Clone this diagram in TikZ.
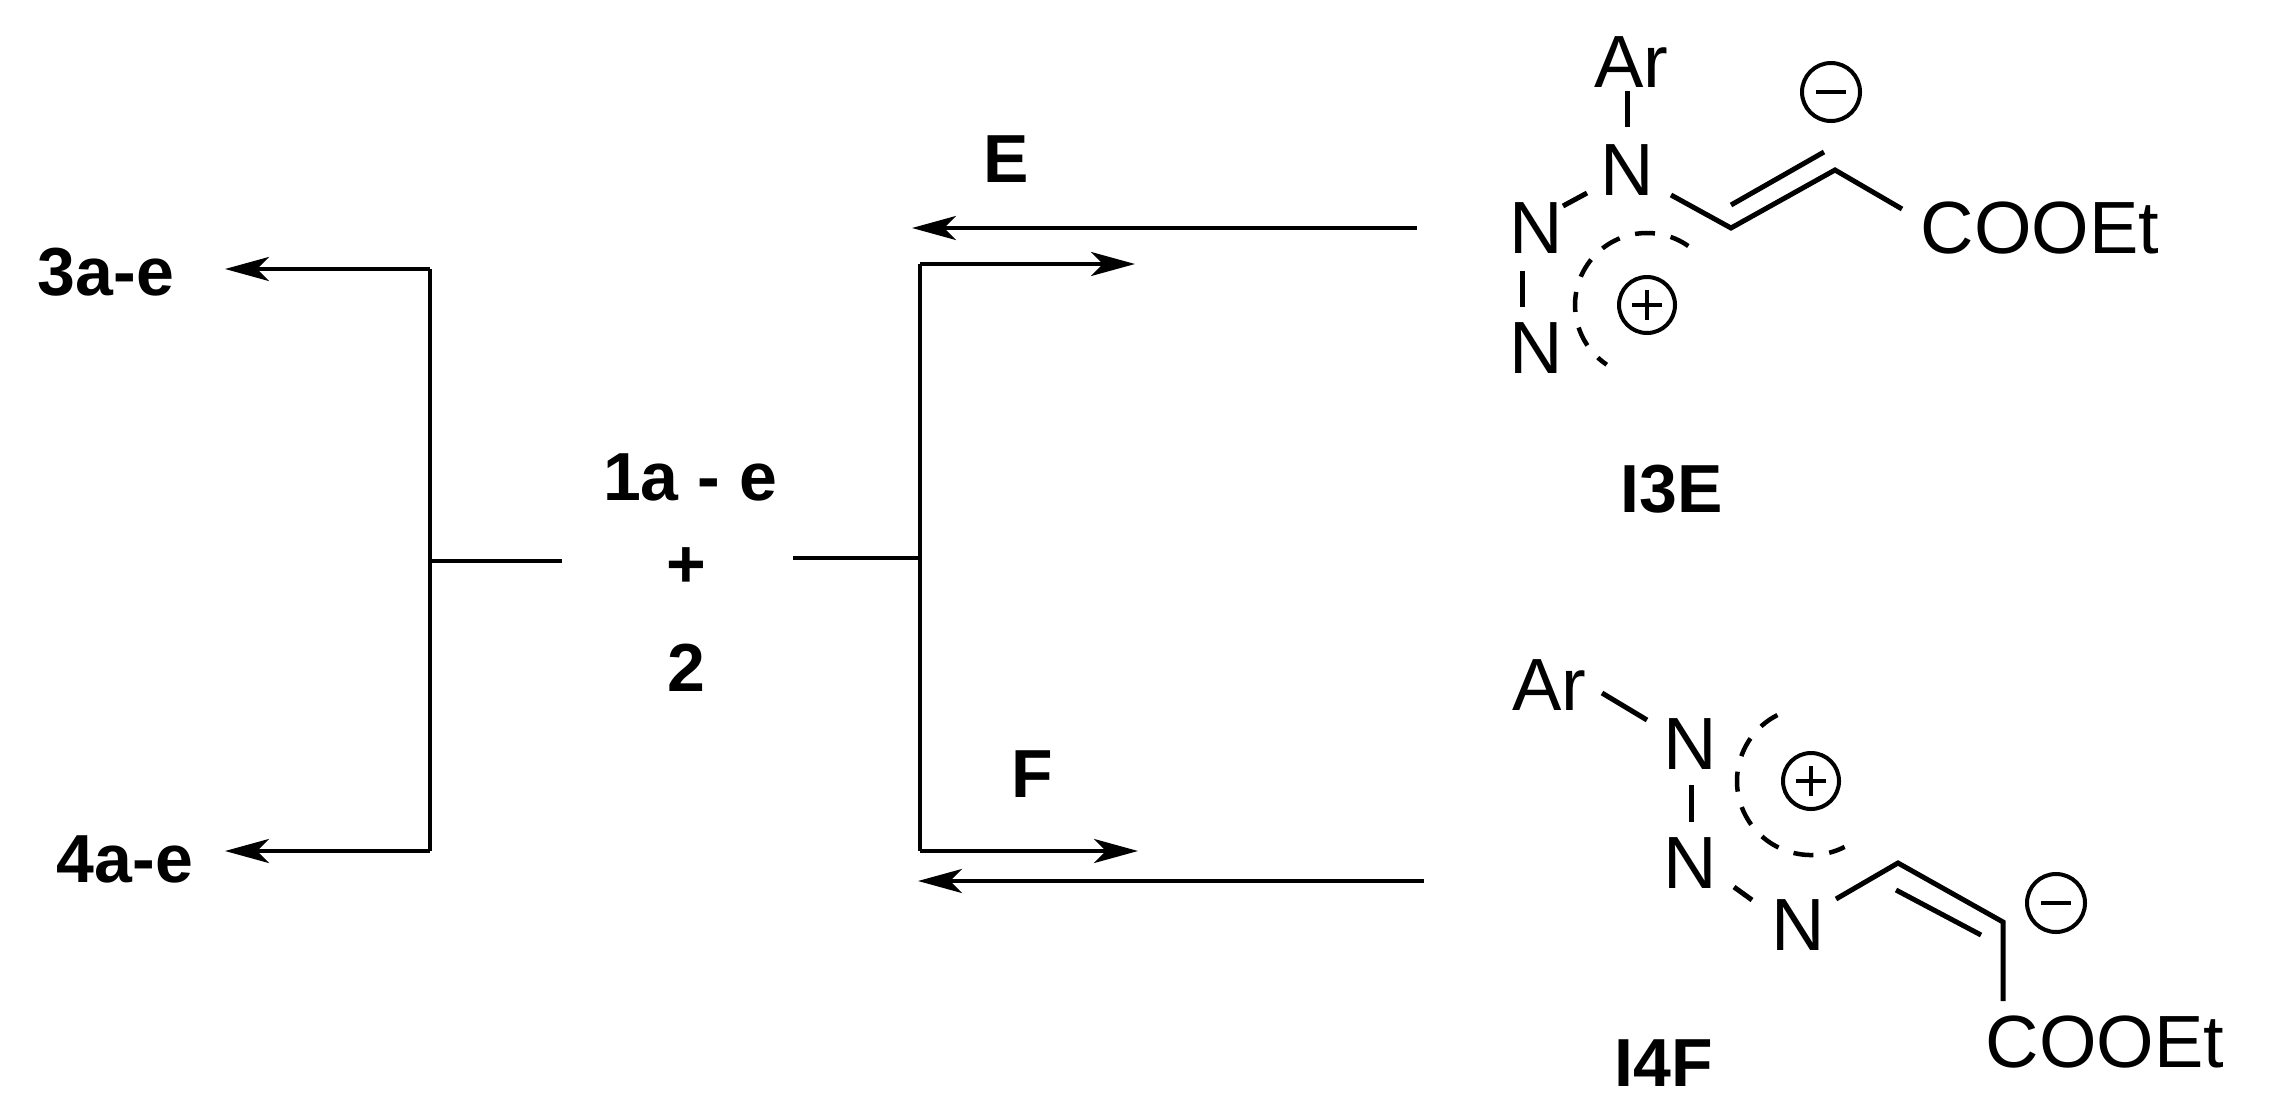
\documentclass[tikz,border=0pt]{standalone}
\usepackage{fontspec}
\setmainfont{Liberation Sans}
\usetikzlibrary{arrows.meta}
\begin{document}
\begin{tikzpicture}[x=1pt,y=-1pt,
  bond/.style={line width=5pt},
  rxn/.style={line width=4.5pt},
  arr/.style={rxn,-{Stealth[length=44pt,width=24pt,inset=12pt]}},
  atom/.style={font=\fontsize{74}{74}\selectfont,inner sep=0pt},
  lab/.style={font=\bfseries\fontsize{68}{68}\selectfont,inner sep=0pt},
  dsh/.style={line width=4.5pt,dash pattern=on 20pt off 16pt},
  chg/.style={line width=4pt}]
\useasboundingbox (0,0) rectangle (2275,1119);
% left part
\node[lab] (p3) at (106,272) {3a-e};
\node[lab] (p4) at (125,859) {4a-e};
\coordinate (lt) at (430,269);
\coordinate (lb) at (430,851);
\coordinate (lm) at (430,561);
\coordinate (lm2) at (562,561);
\draw[rxn] (lt) -- (lb);
\draw[rxn] (lm) -- (lm2);
\draw[arr] (lt) -- (225,269);
\draw[arr] (lb) -- (225,851);
% center
\node[lab] (r1) at (690,477) {1a - e};
\node[lab] (rp) at (686,568) {+};
\node[lab] (r2) at (686,668) {2};
\coordinate (rm) at (793,558);
\coordinate (rt) at (920,264);
\coordinate (rb) at (920,851);
\draw[rxn] (rm) -- (920,558);
\draw[rxn] (rt) -- (rb);
\draw[arr] (rt) -- (1135,264);
\coordinate (es) at (1417,228);
\draw[arr] (es) -- (912,228);
\node[lab] (E) at (1006,159) {E};
\draw[arr] (rb) -- (1138,851);
\coordinate (fs) at (1424,881);
\draw[arr] (fs) -- (918,881);
\node[lab] (F) at (1032,774) {F};
% I3E
\node[atom] (a1) at (1631,62) {Ar};
\node[atom] (n1) at (1627,170) {N};
\node[atom] (n2) at (1536,228) {N};
\node[atom] (n3) at (1536,348) {N};
\node[atom] (c1) at (2040,228) {COOEt};
\draw[bond] (1627,91) -- (1627,127);
\draw[bond] (1563,206) -- (1587,193);
\draw[bond] (1522,271) -- (1522,307);
\draw[bond] (1671,195) -- (1731,228) -- (1835,170) -- (1902,209);
\draw[bond] (1731,205) -- (1824,152);
\draw[chg] (1831,92) circle (29);
\draw[chg] (1816,92) -- (1846,92);
\draw[chg] (1647,305) circle (28);
\draw[chg] (1632,305) -- (1662,305) (1647,290) -- (1647,320);
\draw[dsh] (1647,305) ++(-55:72) arc[start angle=-55,end angle=-236,radius=72];
\node[lab] (l3) at (1672,489) {I3E};
% I4F
\node[atom] (a2) at (1549,685) {Ar};
\node[atom] (m1) at (1690,744) {N};
\node[atom] (m2) at (1690,863) {N};
\node[atom] (m3) at (1798,925) {N};
\node[atom] (c2) at (2105,1042) {COOEt};
\draw[bond] (1602,693) -- (1647,720);
\draw[bond] (1691,785) -- (1691,822);
\draw[bond] (1734,887) -- (1752,900);
\draw[bond] (1836,899) -- (1898,863) -- (2003,922) -- (2003,1001);
\draw[bond] (1896,890) -- (1981,935);
\draw[chg] (2056,903) circle (29);
\draw[chg] (2041,903) -- (2071,903);
\draw[chg] (1811,781) circle (28);
\draw[chg] (1796,781) -- (1826,781) (1811,766) -- (1811,796);
\draw[dsh] (1811,781) ++(-117:74) arc[start angle=-117,end angle=-297,radius=74];
\node[lab] (l4) at (1664,1063) {I4F};
\end{tikzpicture}
\end{document}
